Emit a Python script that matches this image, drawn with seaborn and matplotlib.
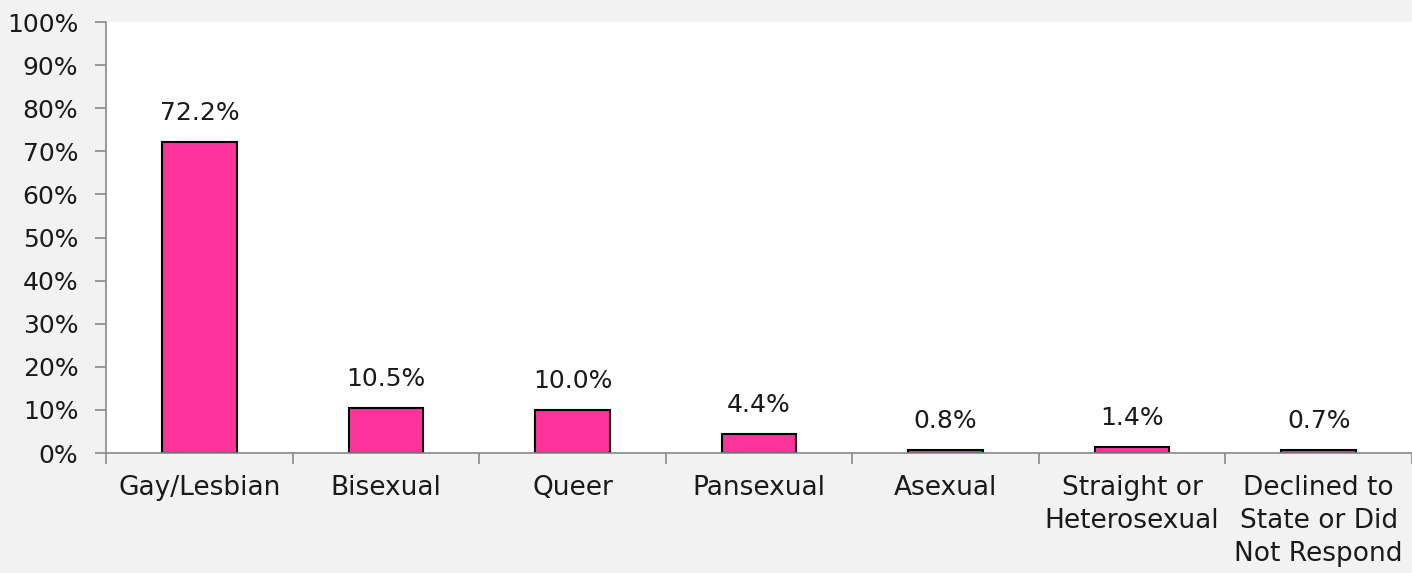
import numpy as np
import pandas as pd
import matplotlib
matplotlib.use('Agg')
import matplotlib.pyplot as plt
import seaborn as sns

categories = ['Gay/Lesbian', 'Bisexual', 'Queer', 'Pansexual', 'Asexual',
              'Straight or\nHeterosexual', 'Declined to\nState or Did\nNot Respond']
values = [72.2, 10.5, 10.0, 4.4, 0.8, 1.4, 0.7]
yticks = list(range(0, 101, 10))

sns.set_style('white')
plt.rcParams['font.family'] = ['DejaVu Sans']

df = pd.DataFrame({'cat': categories, 'val': values})

fig = plt.figure(figsize=(14.12, 5.73), dpi=100, facecolor='#F2F2F2')
ax = fig.add_axes([0.0751, 0.2094, 0.9249, 0.7522])
ax.set_facecolor('white')

sns.barplot(data=df, x='cat', y='val', color='#FF3399', width=0.4,
            edgecolor='black', linewidth=1.5, saturation=1, ax=ax)

# value labels above bars
for i, v in enumerate(values):
    ax.annotate(f'{v:.1f}%', (i, v), xytext=(0, 12), textcoords='offset points',
                ha='center', va='bottom', fontsize=18, color='#1a1a1a')

ax.set_ylim(0, 100)
ax.set_xlim(-0.5, len(categories) - 0.5)
ax.set_yticks(yticks)
ax.set_yticklabels([f'{t}%' for t in yticks], fontsize=18, color='#1a1a1a')
ax.set_xticklabels(categories, fontsize=19, color='#1a1a1a', linespacing=1.35)
ax.set_xlabel('')
ax.set_ylabel('')

# ticks between categories
ax.set_xticks(np.arange(-0.5, len(categories), 1), minor=True)
ax.tick_params(axis='x', which='major', bottom=True, length=0, pad=16)
ax.tick_params(axis='x', which='minor', bottom=True, length=8, width=1.2,
               color='#898989', direction='out')
ax.tick_params(axis='y', left=True, length=8, width=1.2, color='#898989',
               direction='out', pad=12)

for s in ['top', 'right']:
    ax.spines[s].set_visible(False)
for s in ['left', 'bottom']:
    ax.spines[s].set_color('#898989')
    ax.spines[s].set_linewidth(1.2)

fig.savefig('out.png', dpi=100, facecolor=fig.get_facecolor())
